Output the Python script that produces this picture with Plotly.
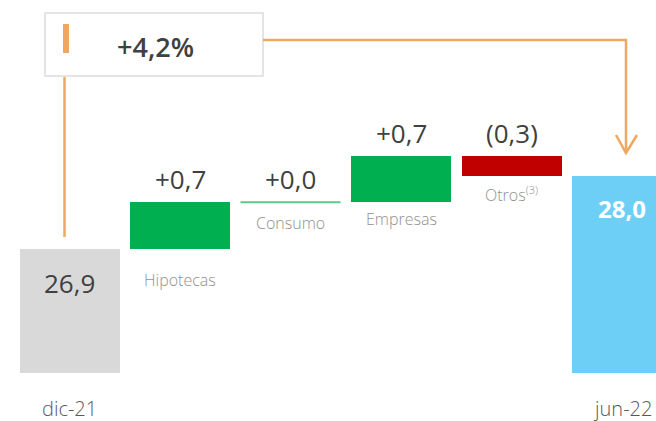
import plotly.graph_objects as go

# ---------------- data ----------------
categories = ["dic-21", "Hipotecas", "Consumo", "Empresas", "Otros<sup>(3)</sup>", "jun-22"]
measures = ["absolute", "relative", "relative", "relative", "relative", "total"]
values = [26.9, 0.7, 0.0, 0.7, -0.3, 28.0]
value_labels = ["26,9", "+0,7", "+0,0", "+0,7", "(0,3)", "28,0"]
growth_label = "+4,2%"

# ---------------- style ----------------
AXIS_BASE = 25.03
FONT = "Open Sans"
GRAY = "#D9D9D9"
GREEN = "#00B050"
RED = "#C00000"
BLUE = "#6DCFF6"
ORANGE = "#F0A860"
DARK = "#404040"
LIGHT_TXT = "#909090"
W, H = 656, 421

# compute bar bases / tops from data
bases, tops, colors = [], [], []
running = 0.0
for m, v in zip(measures, values):
    if m == "absolute":
        running = v
        bases.append(AXIS_BASE); tops.append(v); colors.append(GRAY)
    elif m == "total":
        bases.append(AXIS_BASE); tops.append(v); colors.append(BLUE)
    else:
        lo, hi = sorted([running, running + v])
        bases.append(lo); tops.append(hi)
        colors.append(GREEN if v >= 0 else RED)
        running += v

xs = list(range(len(categories)))
heights = [t - b for t, b in zip(tops, bases)]

fig = go.Figure()
fig.add_trace(go.Bar(
    x=xs, y=heights, base=bases, width=0.905,
    marker=dict(color=colors, line=dict(width=0)),
    hoverinfo="skip", showlegend=False,
))

def px(x):
    return x / W

def py(y):
    return 1 - y / H

annotations = []
shapes = []

for i, (m, v) in enumerate(zip(measures, values)):
    if m in ("absolute", "total"):
        annotations.append(dict(
            x=i, y=tops[i], xref="x", yref="y", xanchor="center", yanchor="top", yshift=-14,
            text=value_labels[i], showarrow=False,
            font=dict(family=FONT, size=26 if m == "absolute" else 24,
                      color=DARK if m == "absolute" else "white",
                      weight=400 if m == "absolute" else 700),
        ))
        annotations.append(dict(
            x=i, y=py(408), xref="x", yref="paper", xanchor="center", yanchor="middle",
            text=categories[i], showarrow=False,
            font=dict(family=FONT, size=20, color="#595959", weight=300),
        ))
    else:
        if v == 0:
            shapes.append(dict(type="line", xref="x", yref="y",
                               x0=i - 0.4525, x1=i + 0.4525, y0=tops[i], y1=tops[i],
                               line=dict(color="#5CC98A", width=2)))
        annotations.append(dict(
            x=i, y=tops[i], xref="x", yref="y", xanchor="center", yanchor="bottom", yshift=3,
            text=value_labels[i], showarrow=False,
            font=dict(family=FONT, size=26, color=DARK, weight=400),
        ))
        shift = -18 if i == 1 else (-8 if v == 0 else -4)
        annotations.append(dict(
            x=i, y=bases[i], xref="x", yref="y", xanchor="center", yanchor="top", yshift=shift,
            text=categories[i], showarrow=False,
            font=dict(family=FONT, size=16, color=LIGHT_TXT, weight=300),
        ))

# growth box
shapes.append(dict(type="rect", xref="paper", yref="paper",
                   x0=px(45), x1=px(263), y0=py(76), y1=py(13),
                   line=dict(color="#DCDCDC", width=1.5), fillcolor="white", layer="above"))
shapes.append(dict(type="rect", xref="paper", yref="paper",
                   x0=px(63), x1=px(69), y0=py(53), y1=py(24),
                   line=dict(width=0), fillcolor=ORANGE, layer="above"))
annotations.append(dict(x=px(155), y=py(46), xref="paper", yref="paper",
                        xanchor="center", yanchor="middle",
                        text=growth_label, showarrow=False,
                        font=dict(family=FONT, size=27, color=DARK, weight=600)))
# connector lines
shapes.append(dict(type="line", xref="paper", yref="paper",
                   x0=px(64.5), x1=px(64.5), y0=py(77), y1=py(237),
                   line=dict(color=ORANGE, width=2.5)))
shapes.append(dict(type="path", xref="paper", yref="paper",
                   path=f"M {px(263)} {py(40)} L {px(626)} {py(40)} L {px(626)} {py(152)}",
                   line=dict(color=ORANGE, width=2.5)))
shapes.append(dict(type="path", xref="paper", yref="paper",
                   path=f"M {px(616)} {py(135)} L {px(626)} {py(153)} L {px(637)} {py(135)}",
                   line=dict(color=ORANGE, width=2.5)))

# axis ranges mapped so the page pixels match the reference layout
x_lo = (0 - 69.5) / 110.5
x_hi = (W - 69.5) / 110.5
scale = 66.4
y_lo = AXIS_BASE - (H - 373) / scale
y_hi = AXIS_BASE + 373 / scale

fig.update_layout(
    width=W, height=H,
    margin=dict(l=0, r=0, t=0, b=0),
    paper_bgcolor="white", plot_bgcolor="white",
    xaxis=dict(range=[x_lo, x_hi], visible=False, fixedrange=True),
    yaxis=dict(range=[y_lo, y_hi], visible=False, fixedrange=True),
    bargap=0,
    shapes=shapes,
    annotations=annotations,
    font=dict(family=FONT),
)

fig.write_html(
    "out.html",
    config={"displayModeBar": False, "staticPlot": True},
    post_script="document.body.style.margin='0';document.body.style.overflow='hidden';",
)
